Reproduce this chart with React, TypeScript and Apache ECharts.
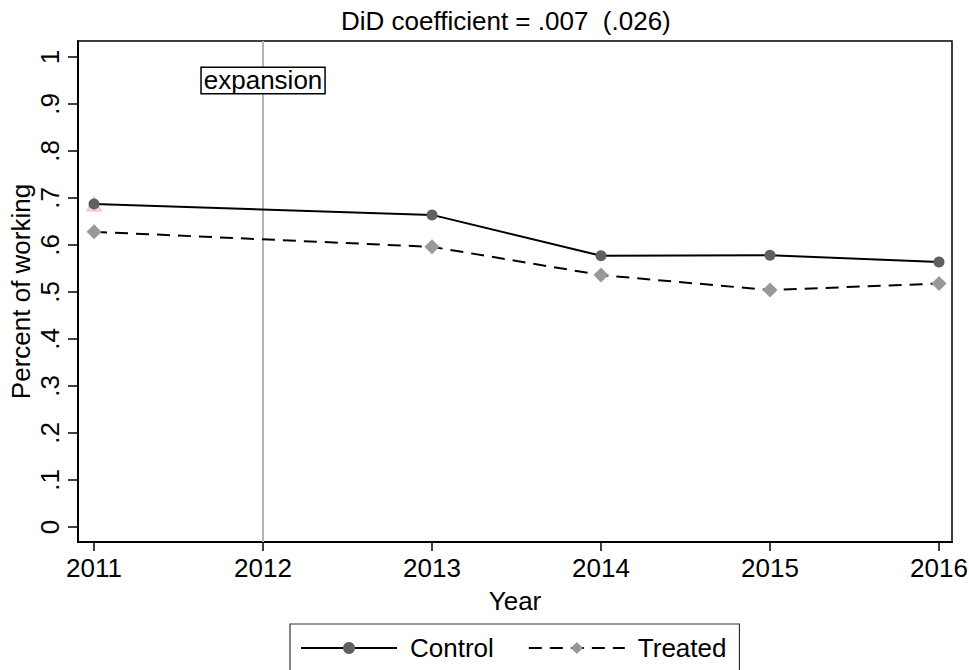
import React, { useEffect, useRef } from "react";
import * as echarts from "echarts";

const years = [2011, 2013, 2014, 2015, 2016];
const controlValues = [0.687, 0.664, 0.577, 0.578, 0.564];
const treatedValues = [0.628, 0.596, 0.536, 0.504, 0.518];
const xTickLabels = [2011, 2012, 2013, 2014, 2015, 2016];
const yTickValues = [0, 0.1, 0.2, 0.3, 0.4, 0.5, 0.6, 0.7, 0.8, 0.9, 1];
const expansionYear = 2012;
const titleText = "DiD coefficient = .007  (.026)";

const FONT = "'Liberation Sans', Helvetica, Arial, sans-serif";
const FS = 26;

export default function App() {
  const ref = useRef<HTMLDivElement>(null);
  useEffect(() => {
    if (!ref.current) return;
    const chart = echarts.init(ref.current, undefined, { renderer: "svg" });
    const fmtY = (v: number) => {
      const r = Math.round(v * 10) / 10;
      if (r === 0) return "0";
      if (r === 1) return "1";
      return "." + Math.round(r * 10);
    };
    chart.setOption({
      animation: false,
      backgroundColor: "#ffffff",
      textStyle: { fontFamily: FONT },
      title: {
        text: titleText,
        left: 341,
        top: 8,
        padding: 0,
        textStyle: { fontSize: FS, fontWeight: "normal", color: "#000", fontFamily: FONT },
      },
      grid: {
        left: 78,
        top: 41,
        width: 874,
        height: 501,
        show: true,
        borderColor: "#000",
        borderWidth: 1.5,
        backgroundColor: "#fff",
        containLabel: false,
        outerBoundsMode: "none",
      },
      xAxis: {
        type: "value",
        min: 2010.905,
        max: 2016.077,
        name: "Year",
        nameLocation: "middle",
        nameGap: 46,
        nameTextStyle: { fontSize: FS, color: "#000", fontFamily: FONT },
        axisLine: { show: true, onZero: false, lineStyle: { color: "#000", width: 2 } },
        axisTick: { show: true, customValues: xTickLabels, length: 9, lineStyle: { color: "#000", width: 1.5 } },
        axisLabel: {
          customValues: xTickLabels,
          fontSize: FS,
          color: "#000",
          margin: 13,
          formatter: (v: number) => String(v),
        },
        splitLine: { show: false },
      },
      yAxis: {
        type: "value",
        min: -0.032,
        max: 1.034,
        name: "Percent of working",
        nameLocation: "middle",
        nameRotate: 90,
        nameGap: 44,
        nameMoveOverlap: false,
        nameTextStyle: { fontSize: FS, color: "#000", fontFamily: FONT },
        axisLine: { show: true, onZero: false, lineStyle: { color: "#000", width: 2 } },
        axisTick: { show: true, customValues: yTickValues, length: 10, lineStyle: { color: "#000", width: 1.5 } },
        axisLabel: {
          customValues: yTickValues,
          rotate: 90,
          fontSize: FS,
          color: "#000",
          margin: 15,
          formatter: fmtY,
        },
        splitLine: { show: false },
      },
      legend: {
        data: [{ name: "Control" }, { name: "Treated" }],
        left: 290,
        top: 624,
        orient: "horizontal",
        itemWidth: 96,
        itemHeight: 15,
        itemGap: 34,
        padding: [11, 13, 14, 10],
        borderColor: "#333",
        borderWidth: 1.2,
        textStyle: { fontSize: FS, color: "#000", fontFamily: FONT, padding: [0, 0, 0, 8] },
      },
      series: [
        {
          name: "bg",
          type: "scatter",
          data: [[years[0], controlValues[0]]],
          symbol: "emptyTriangle",
          symbolSize: 13,
          itemStyle: { color: "#f3b0b0", borderColor: "#f3b0b0", borderWidth: 1 },
          z: 1,
          silent: true,
        },
        {
          name: "Control",
          type: "line",
          data: years.map((y, i) => [y, controlValues[i]]),
          symbol: "circle",
          symbolSize: 11,
          showSymbol: true,
          itemStyle: { color: "#606060" },
          lineStyle: { color: "#000", width: 2, type: "solid" },
          z: 3,
          markLine: {
            silent: true,
            symbol: ["none", "none"],
            label: { show: false },
            lineStyle: { color: "#b4b4b4", width: 2, type: "solid" },
            data: [{ xAxis: expansionYear }],
            z: 1,
          },
          markPoint: {
            silent: true,
            symbol: "circle",
            symbolSize: 0,
            data: [{ coord: [expansionYear, 0.95] }],
            label: {
              show: true,
              position: "inside",
              formatter: "expansion",
              fontSize: FS,
              color: "#000",
              fontFamily: FONT,
              backgroundColor: "#fff",
              borderColor: "#000",
              borderWidth: 1.5,
              padding: [0, 2, -1, 2],
            },
          },
        },
        {
          name: "Treated",
          type: "line",
          data: years.map((y, i) => [y, treatedValues[i]]),
          symbol: "diamond",
          symbolSize: 15,
          showSymbol: true,
          itemStyle: { color: "#999999" },
          lineStyle: { color: "#000", width: 2, type: [13, 8] },
          z: 3,
        },
      ],
    });
    return () => chart.dispose();
  }, []);
  return (
    <div
      ref={ref}
      style={{ position: "fixed", left: 0, top: 0, width: 969, height: 670, background: "#fff" }}
    />
  );
}
